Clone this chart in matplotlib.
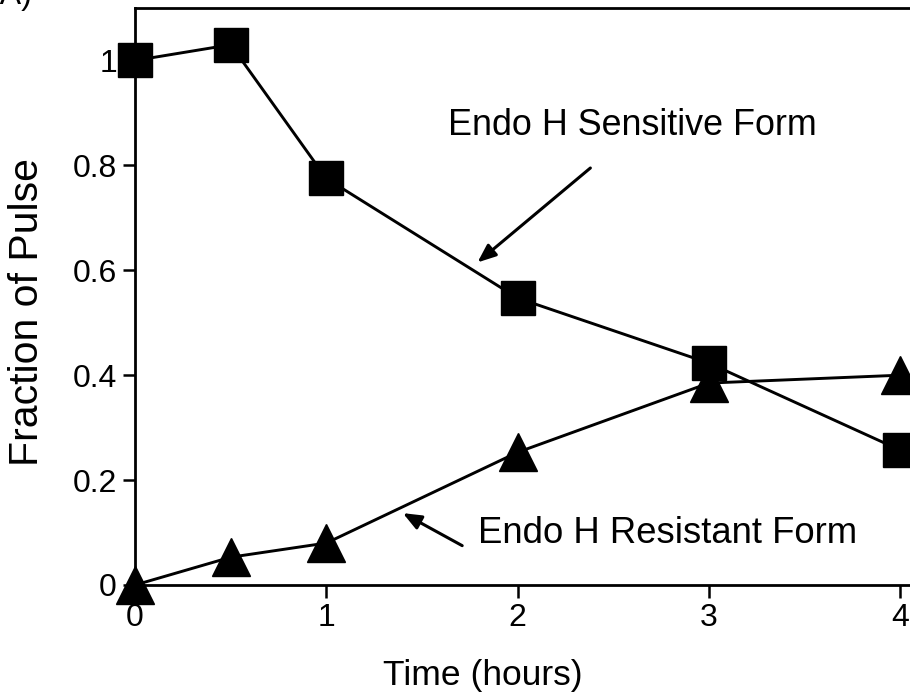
import numpy as np
import matplotlib.pyplot as plt

plt.rcParams['font.family'] = ['Liberation Sans', 'DejaVu Sans']

# time points (hours) and fraction of pulse
time = [0, 0.5, 1, 2, 3, 4]
sensitive = [1.0, 1.03, 0.775, 0.547, 0.423, 0.257]
resistant = [0.0, 0.053, 0.08, 0.253, 0.385, 0.40]

xticks = [0, 1, 2, 3, 4]
yticks = [0, 0.2, 0.4, 0.6, 0.8, 1]
ytick_labels = ["0", "0.2", "0.4", "0.6", "0.8", "1"]

fig = plt.figure(figsize=(9.1, 6.97), dpi=100)
# axes runs past the right edge of the figure (cropped original)
ax = fig.add_axes([0.1484, 0.1607, 0.883, 0.8278])

ax.plot(time, sensitive, color="black", lw=2.1, marker="s", ms=25,
        clip_on=False, zorder=3)
ax.plot(time, resistant, color="black", lw=2.1, marker="^", ms=27,
        clip_on=False, zorder=3)

ax.set_xlim(0, 4.2)
ax.set_ylim(0, 1.1)
ax.set_xticks(xticks)
ax.set_yticks(yticks)
ax.set_yticklabels(ytick_labels)
ax.tick_params(direction="out", length=9, width=1.8, labelsize=23, pad=4)
for s in ax.spines.values():
    s.set_linewidth(2)
ax.spines["right"].set_visible(False)

ax.set_xlabel("Time (hours)", fontsize=25.5)
ax.xaxis.label.set_va("baseline")
ax.xaxis.set_label_coords(0.433, -0.173)
ax.set_ylabel("Fraction of Pulse", fontsize=29.5)
ax.yaxis.label.set_va("center")
ax.yaxis.set_label_coords(-0.134, 0.473)

arrow = dict(arrowstyle="-|>,head_length=1.1,head_width=0.45", color="black",
             lw=2.2, shrinkA=0, shrinkB=0)
ax.annotate("", xy=(1.79, 0.615), xytext=(2.38, 0.795), arrowprops=arrow)
ax.text(1.637, 0.857, "Endo H Sensitive Form", fontsize=25.8, va="baseline")
ax.annotate("", xy=(1.40, 0.137), xytext=(1.71, 0.075), arrowprops=arrow)
ax.text(1.793, 0.08, "Endo H Resistant Form", fontsize=26.3, va="baseline")

fig.text(-0.012, 0.994, "(A)", fontsize=23, va="baseline", ha="left")

fig.savefig("out.png", dpi=100)
